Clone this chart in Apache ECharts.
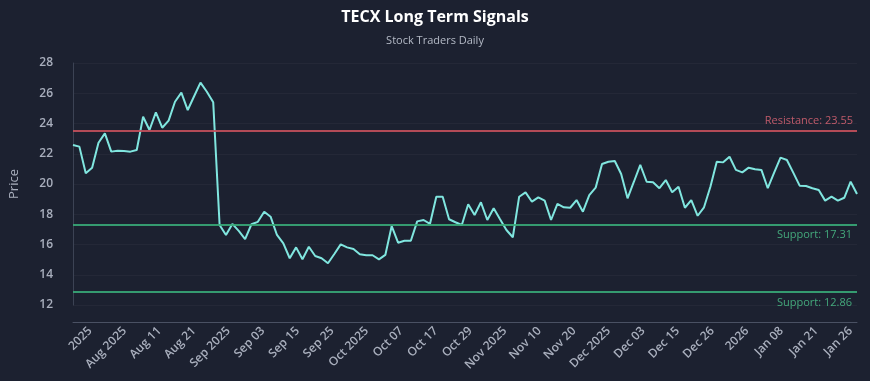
<!DOCTYPE html>
<html><head><meta charset="utf-8">
<script src="https://cdn.jsdelivr.net/npm/echarts@6/dist/echarts.min.js"></script>
<style>html,body{margin:0;padding:0;background:#1c2130;}#c{width:870px;height:381px;}</style>
</head><body><div id="c"></div>
<script>
// Daily closing prices
const prices = [
  22.58, 22.47, 20.71, 21.08, 22.73, 23.35, 22.14, 22.20, 22.18, 22.14,
  22.25, 24.45, 23.57, 24.74, 23.72, 24.19, 25.44, 26.04, 24.89, 25.80,
  26.70, 26.10, 25.40, 17.29, 16.63, 17.36, 16.90, 16.36, 17.34, 17.50,
  18.17, 17.84, 16.63, 16.08, 15.09, 15.81, 15.02, 15.85, 15.24, 15.09,
  14.76, 15.37, 16.01, 15.81, 15.70, 15.35, 15.29, 15.29, 15.02, 15.31,
  17.22, 16.12, 16.25, 16.25, 17.53, 17.62, 17.36, 19.16, 19.16, 17.67,
  17.47, 17.29, 18.66, 17.95, 18.79, 17.62, 18.39, 17.67, 16.96, 16.48,
  19.16, 19.45, 18.83, 19.12, 18.90, 17.62, 18.68, 18.46, 18.43, 18.94,
  18.17, 19.27, 19.76, 21.32, 21.47, 21.52, 20.66, 19.05, 20.15, 21.26,
  20.15, 20.11, 19.72, 20.26, 19.45, 19.82, 18.43, 18.94, 17.90, 18.46,
  19.82, 21.47, 21.43, 21.80, 20.93, 20.77, 21.08, 20.97, 20.93, 19.72,
  20.75, 21.74, 21.59, 20.75, 19.89, 19.87, 19.72, 19.60, 18.90, 19.16,
  18.90, 19.09, 20.15, 19.34
];
const tickLabels = ['2025','Aug 2025','Aug 11','Aug 21','Sep 2025','Sep 03','Sep 15','Sep 25',
  'Oct 2025','Oct 07','Oct 17','Oct 29','Nov 2025','Nov 10','Nov 20','Dec 2025','Dec 03',
  'Dec 15','Dec 26','2026','Jan 08','Jan 21','Jan 26'];
const resistanceLevel = 23.55;
const supportLevels = [17.31, 12.86];
const yTickValues = [12, 14, 16, 18, 20, 22, 24, 26, 28];

// label slots along the trading-day index axis (first / last slot)
const firstSlot = 2.7, lastSlot = 122.0;
const slotStep = (lastSlot - firstSlot) / (tickLabels.length - 1);
const slotValues = tickLabels.map((_, k) => firstSlot + k * slotStep);

const FONT = '"Open Sans", "Noto Sans", sans-serif';
const chart = echarts.init(document.getElementById('c'), null, {renderer: 'canvas'});
chart.setOption({
  backgroundColor: '#1c2130',
  animation: false,
  title: {
    text: 'TECX Long Term Signals',
    subtext: 'Stock Traders Daily',
    left: 'center', top: 4, itemGap: 10,
    textStyle: {color: '#ffffff', fontSize: 16, fontWeight: 'bold', fontFamily: FONT},
    subtextStyle: {color: '#b4bac6', fontSize: 11, fontFamily: FONT}
  },
  grid: {left: 67, right: 13, top: 63, bottom: 76, containLabel: false},
  xAxis: {
    type: 'value', min: 0, max: prices.length - 1,
    offset: 17,
    axisLine: {show: true, lineStyle: {color: '#4a5163', width: 1}},
    axisTick: {show: false},
    splitLine: {show: false},
    axisLabel: {
      customValues: slotValues,
      rotate: 45, margin: 7,
      color: '#a9afbd', fontSize: 12, fontWeight: 600, fontFamily: FONT,
      formatter: function (v) {
        let best = 0, d = 1e9;
        slotValues.forEach((s, k) => { if (Math.abs(s - v) < d) { d = Math.abs(s - v); best = k; } });
        return tickLabels[best];
      }
    }
  },
  yAxis: {
    type: 'value', min: 12, max: 28, interval: 2,
    offset: 12,
    name: 'Price', nameLocation: 'middle', nameGap: 40,
    nameTextStyle: {color: '#a9afbd', fontSize: 13, fontFamily: FONT},
    axisLine: {show: true, lineStyle: {color: '#3c4354', width: 1}},
    axisTick: {show: false},
    axisLabel: {color: '#a9afbd', fontSize: 12, fontWeight: 600, fontFamily: FONT, margin: 8},
    splitLine: {show: true, lineStyle: {color: 'rgba(255,255,255,0.035)', width: 1}}
  },
  series: [{
    type: 'line',
    data: prices.map((v, i) => [i, v]),
    showSymbol: false,
    lineStyle: {color: '#80e6df', width: 2},
    itemStyle: {color: '#80e6df'},
    markLine: {
      symbol: ['none', 'none'],
      silent: true,
      data: [
        {yAxis: resistanceLevel,
         lineStyle: {color: '#c4505c', width: 2, type: 'solid', opacity: 0.9},
         label: {show: true, position: 'insideEndTop', formatter: 'Resistance: ' + resistanceLevel.toFixed(2),
                 color: '#d06070', fontSize: 11, fontFamily: FONT, distance: 4}},
        ...supportLevels.map(s => ({yAxis: s,
         lineStyle: {color: '#38a878', width: 2, type: 'solid', opacity: 0.9},
         label: {show: true, position: 'insideEndBottom', formatter: 'Support: ' + s.toFixed(2),
                 color: '#48b884', fontSize: 11, fontFamily: FONT, distance: 5}}))
      ]
    }
  }]
});
</script></body></html>
